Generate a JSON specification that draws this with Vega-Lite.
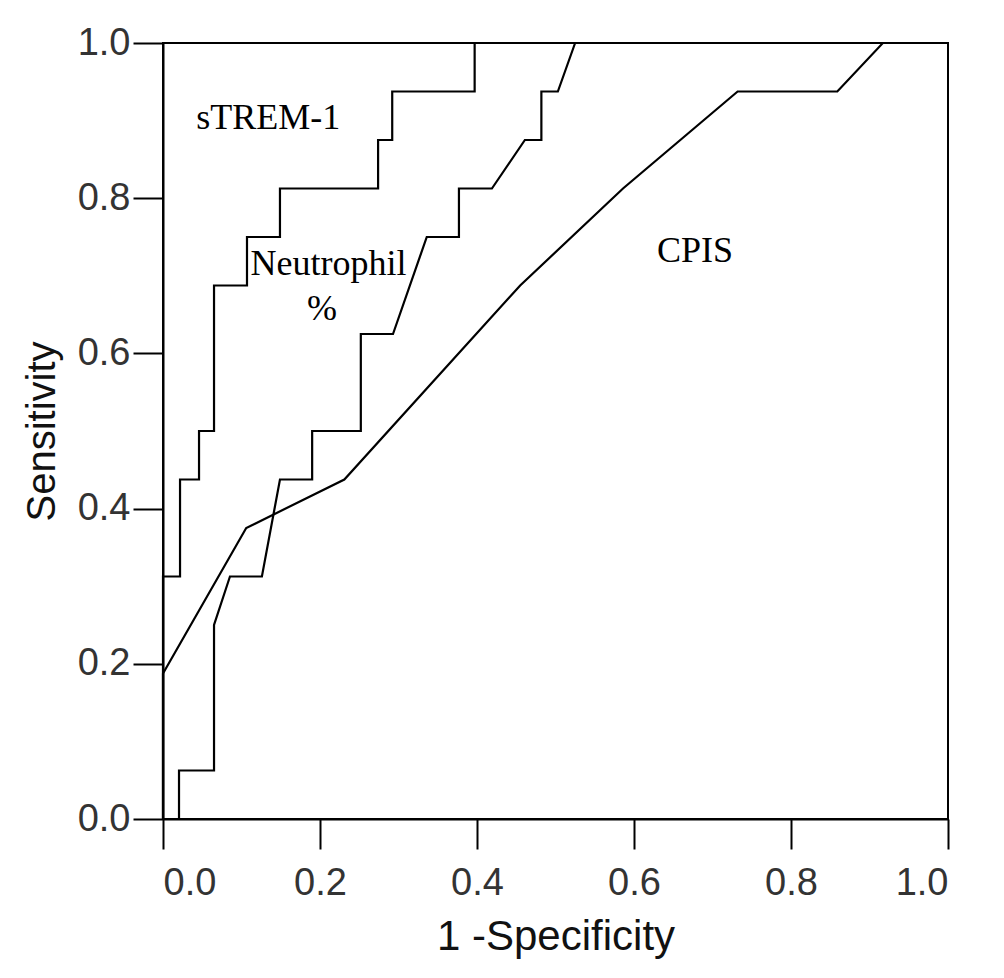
{
  "$schema": "https://vega.github.io/schema/vega-lite/v6.json",
  "width": 785,
  "height": 776,
  "autosize": {"type": "none"},
  "padding": {"left": 163, "top": 43, "right": 56, "bottom": 159},
  "background": "white",
  "config": {
    "view": {"stroke": "black", "strokeWidth": 2},
    "axis": {
      "grid": false,
      "domainColor": "black",
      "domainWidth": 2,
      "tickColor": "black",
      "tickWidth": 2,
      "tickSize": 30,
      "labelFont": "Liberation Sans",
      "labelFontSize": 38,
      "labelColor": "#333",
      "titleFont": "Liberation Sans",
      "titleFontWeight": "normal",
      "titleColor": "#111"
    }
  },
  "datasets": {
    "curves": [
      {"series": "sTREM-1", "i": 0, "fpr": 0, "sens": 0},
      {"series": "sTREM-1", "i": 1, "fpr": 0, "sens": 0.3125},
      {"series": "sTREM-1", "i": 2, "fpr": 0.0217, "sens": 0.3125},
      {"series": "sTREM-1", "i": 3, "fpr": 0.0217, "sens": 0.4375},
      {"series": "sTREM-1", "i": 4, "fpr": 0.0459, "sens": 0.4375},
      {"series": "sTREM-1", "i": 5, "fpr": 0.0459, "sens": 0.5},
      {"series": "sTREM-1", "i": 6, "fpr": 0.065, "sens": 0.5},
      {"series": "sTREM-1", "i": 7, "fpr": 0.065, "sens": 0.6875},
      {"series": "sTREM-1", "i": 8, "fpr": 0.107, "sens": 0.6875},
      {"series": "sTREM-1", "i": 9, "fpr": 0.107, "sens": 0.75},
      {"series": "sTREM-1", "i": 10, "fpr": 0.149, "sens": 0.75},
      {"series": "sTREM-1", "i": 11, "fpr": 0.149, "sens": 0.8125},
      {"series": "sTREM-1", "i": 12, "fpr": 0.274, "sens": 0.8125},
      {"series": "sTREM-1", "i": 13, "fpr": 0.274, "sens": 0.875},
      {"series": "sTREM-1", "i": 14, "fpr": 0.292, "sens": 0.875},
      {"series": "sTREM-1", "i": 15, "fpr": 0.292, "sens": 0.9375},
      {"series": "sTREM-1", "i": 16, "fpr": 0.397, "sens": 0.9375},
      {"series": "sTREM-1", "i": 17, "fpr": 0.397, "sens": 1},
      {"series": "sTREM-1", "i": 18, "fpr": 1, "sens": 1},
      {"series": "Neutrophil", "i": 0, "fpr": 0, "sens": 0},
      {"series": "Neutrophil", "i": 1, "fpr": 0.0204, "sens": 0},
      {"series": "Neutrophil", "i": 2, "fpr": 0.0204, "sens": 0.0625},
      {"series": "Neutrophil", "i": 3, "fpr": 0.065, "sens": 0.0625},
      {"series": "Neutrophil", "i": 4, "fpr": 0.065, "sens": 0.25},
      {"series": "Neutrophil", "i": 5, "fpr": 0.0853, "sens": 0.3125},
      {"series": "Neutrophil", "i": 6, "fpr": 0.126, "sens": 0.3125},
      {"series": "Neutrophil", "i": 7, "fpr": 0.149, "sens": 0.4375},
      {"series": "Neutrophil", "i": 8, "fpr": 0.19, "sens": 0.4375},
      {"series": "Neutrophil", "i": 9, "fpr": 0.19, "sens": 0.5},
      {"series": "Neutrophil", "i": 10, "fpr": 0.252, "sens": 0.5},
      {"series": "Neutrophil", "i": 11, "fpr": 0.252, "sens": 0.625},
      {"series": "Neutrophil", "i": 12, "fpr": 0.293, "sens": 0.625},
      {"series": "Neutrophil", "i": 13, "fpr": 0.336, "sens": 0.75},
      {"series": "Neutrophil", "i": 14, "fpr": 0.377, "sens": 0.75},
      {"series": "Neutrophil", "i": 15, "fpr": 0.377, "sens": 0.8125},
      {"series": "Neutrophil", "i": 16, "fpr": 0.419, "sens": 0.8125},
      {"series": "Neutrophil", "i": 17, "fpr": 0.461, "sens": 0.875},
      {"series": "Neutrophil", "i": 18, "fpr": 0.482, "sens": 0.875},
      {"series": "Neutrophil", "i": 19, "fpr": 0.482, "sens": 0.9375},
      {"series": "Neutrophil", "i": 20, "fpr": 0.503, "sens": 0.9375},
      {"series": "Neutrophil", "i": 21, "fpr": 0.525, "sens": 1},
      {"series": "Neutrophil", "i": 22, "fpr": 1, "sens": 1},
      {"series": "CPIS", "i": 0, "fpr": 0, "sens": 0},
      {"series": "CPIS", "i": 1, "fpr": 0, "sens": 0.1875},
      {"series": "CPIS", "i": 2, "fpr": 0.106, "sens": 0.375},
      {"series": "CPIS", "i": 3, "fpr": 0.231, "sens": 0.4375},
      {"series": "CPIS", "i": 4, "fpr": 0.455, "sens": 0.6875},
      {"series": "CPIS", "i": 5, "fpr": 0.586, "sens": 0.8125},
      {"series": "CPIS", "i": 6, "fpr": 0.732, "sens": 0.9375},
      {"series": "CPIS", "i": 7, "fpr": 0.859, "sens": 0.9375},
      {"series": "CPIS", "i": 8, "fpr": 0.917, "sens": 1},
      {"series": "CPIS", "i": 9, "fpr": 1, "sens": 1}
    ],
    "labels": [
      {"text": "sTREM-1", "fpr": 0.134, "sens": 0.889},
      {"text": "Neutrophil", "fpr": 0.2108, "sens": 0.701},
      {"text": "%", "fpr": 0.2025, "sens": 0.643},
      {"text": "CPIS", "fpr": 0.6777, "sens": 0.718}
    ]
  },
  "layer": [
    {
      "data": {"name": "curves"},
      "mark": {"type": "line", "color": "black", "strokeWidth": 2.2, "interpolate": "linear"},
      "encoding": {
        "x": {
          "field": "fpr", "type": "quantitative",
          "scale": {"domain": [0, 1], "nice": false, "zero": true},
          "axis": {"values": [0, 0.2, 0.4, 0.6, 0.8, 1], "format": ".1f", "labelPadding": 15, "title": "1 -Specificity", "titleFontSize": 42, "titlePadding": 14}
        },
        "y": {
          "field": "sens", "type": "quantitative",
          "scale": {"domain": [0, 1], "nice": false},
          "axis": {"values": [0, 0.2, 0.4, 0.6, 0.8, 1], "format": ".1f", "labelPadding": 3, "title": "Sensitivity", "titleFontSize": 40, "titlePadding": 15}
        },
        "detail": {"field": "series", "type": "nominal"},
        "order": {"field": "i", "type": "quantitative"}
      }
    },
    {
      "data": {"name": "labels"},
      "mark": {"type": "text", "font": "Liberation Serif", "fontSize": 36, "color": "black", "baseline": "alphabetic", "align": "center"},
      "encoding": {
        "x": {"field": "fpr", "type": "quantitative"},
        "y": {"field": "sens", "type": "quantitative"},
        "text": {"field": "text", "type": "nominal"}
      }
    }
  ]
}
